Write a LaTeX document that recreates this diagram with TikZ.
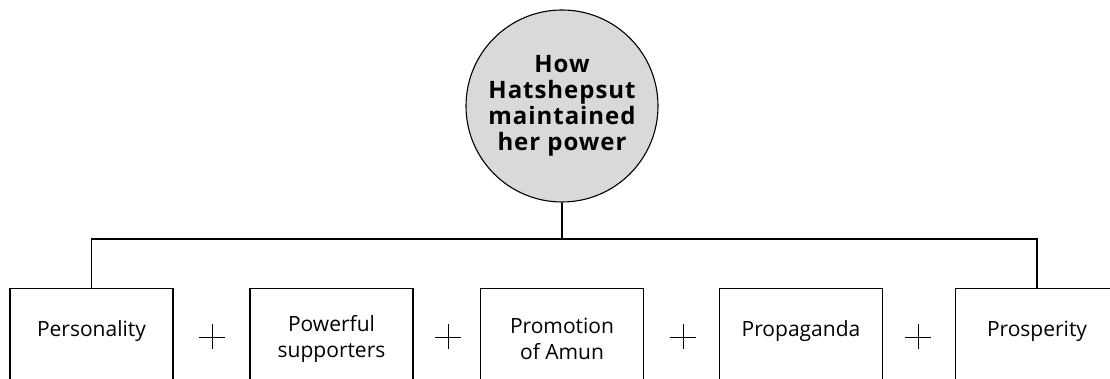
\documentclass[tikz,border=0pt]{standalone}
\usepackage{fontspec}
\setmainfont{Open Sans}
\usetikzlibrary{positioning}
\begin{document}
\begin{tikzpicture}[x=1pt, y=1pt, line width=1.1pt,
  box/.style={draw, minimum width=163pt, minimum height=170pt, anchor=north},
  lbl/.style={align=center, font=\fontsize{21}{26}\selectfont},
  plus/.style={line width=0.9pt}]
  \definecolor{rootgray}{RGB}{217,217,217}
  \useasboundingbox (0,0) rectangle (1110,379);
  \clip (0,0) rectangle (1110,379);
  \node[draw, circle, fill=rootgray, minimum size=192pt, inner sep=0pt, align=center, font=\fontsize{24}{26}\selectfont\bfseries\addfontfeatures{LetterSpace=4}] (root) at (562,273) {How\\Hatshepsut\\maintained\\her power};
  \coordinate (hub) at (562,140);
  % the five parts
  \node[box] (personality) at (91.5,91) {};
  \node[box] (supporters) at (331.5,91) {};
  \node[box] (amun) at (562,91) {};
  \node[box] (propaganda) at (801,91) {};
  \node[box] (prosperity) at (1037,91) {};
  \node[lbl] (personalityText) at (91.5,48) {Personality};
  \node[lbl] (supportersText) at (331.5,40) {Powerful\\supporters};
  \node[lbl] (amunText) at (562,40) {Promotion\\of Amun};
  \node[lbl] (propagandaText) at (801,48) {Propaganda};
  \node[lbl] (prosperityText) at (1037,48) {Prosperity};
  \draw (root.south) -- (hub);
  \draw (personality.north) |- (hub) -| (prosperity.north);
  \foreach \px in {212,448,683,918}
    \draw[plus] (\px-13,42) -- (\px+13,42) (\px,30) -- (\px,55);
\end{tikzpicture}
\end{document}
